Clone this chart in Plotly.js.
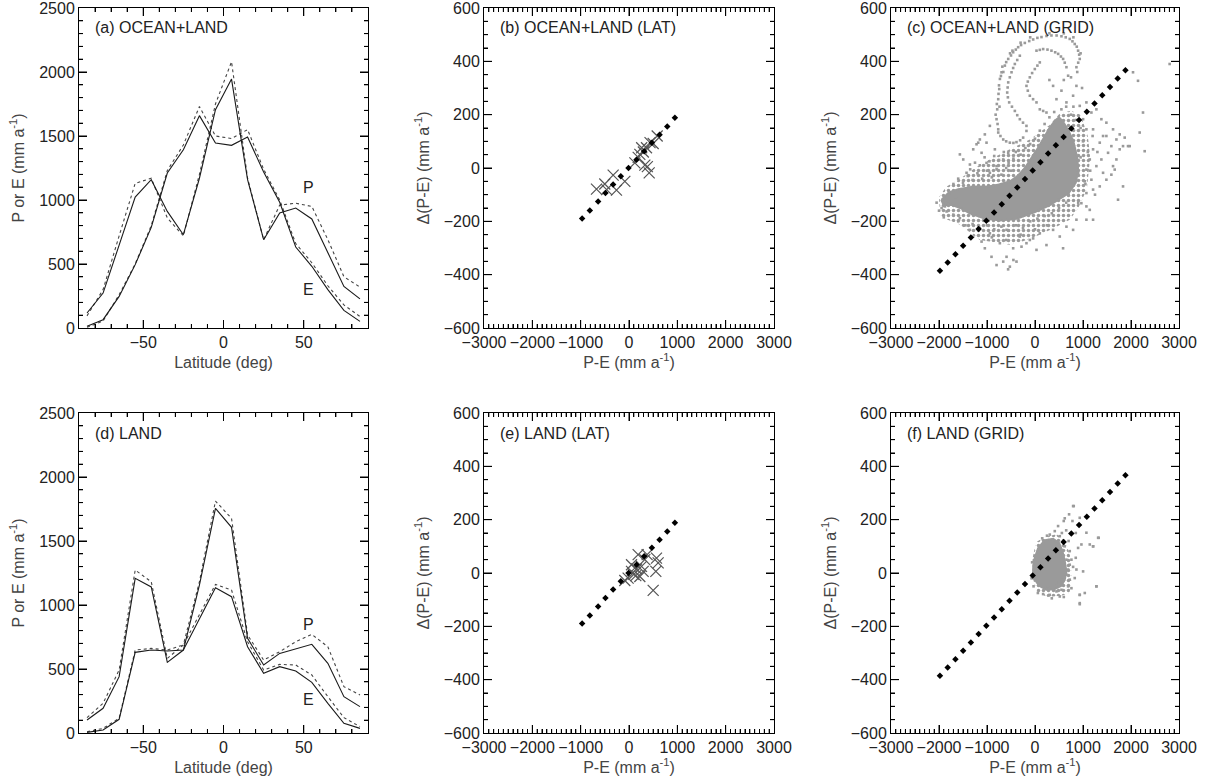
<!DOCTYPE html>
<html>
<head>
<meta charset="utf-8">
<script src="https://cdn.plot.ly/plotly-3.0.1.min.js"></script>
<style>html,body{margin:0;padding:0;background:#fff;}#chart{position:relative;width:1210px;height:782px;}.panel{position:absolute;left:0;top:0;width:1210px;height:782px;}</style>
</head>
<body>
<div id="chart"></div>
<script>
// ---------- data ----------
const lat = [-85,-75,-65,-55,-45,-35,-25,-15,-5,5,15,25,35,45,55,65,75,85];

// (a) OCEAN+LAND
const aP      = [117,273,648,1023,1159,911,729,1170,1706,1945,1159,690,898,937,852,586,325,227];
const aE      = [13,65,247,495,786,1211,1393,1659,1445,1427,1492,1219,982,633,482,300,138,52];
const aPdash  = [95,300,720,1130,1170,860,720,1200,1750,2080,1170,690,960,975,950,690,400,320];
const aEdash  = [5,55,260,500,800,1230,1430,1730,1500,1480,1550,1240,1000,660,510,330,180,90];

// (d) LAND
const dP      = [102,193,440,1208,1141,552,648,1156,1755,1607,740,531,622,655,693,544,284,206];
const dE      = [5,23,107,630,648,641,648,896,1135,1065,674,466,518,484,396,232,76,36];
const dPdash  = [120,232,492,1273,1182,583,688,1182,1812,1677,766,570,635,713,770,674,362,297];
const dEdash  = [10,36,115,648,661,648,688,922,1161,1117,713,492,536,531,453,284,120,50];

// reference (dotted) line points, LAT panels
const latRefX = [-970,-811,-639,-487,-328,-169,-10,155,314,473,632,791,949];
const latRefY = [-189,-159,-126,-94,-62,-31,0,31,63,95,125,156,188];

// reference (dotted) line points, GRID panels
const gridRefX = [-1980,-1819,-1658,-1497,-1336,-1175,-1014,-853,-692,-531,-370,-209,-48,113,274,435,596,757,918,1079,1240,1401,1562,1723,1884];
const gridRefY = [-385,-354,-323,-292,-261,-229,-198,-167,-136,-104,-73,-41,-9,22,54,85,116,148,180,211,242,273,304,336,367];

// (b) crosses
const bX = [-673,-501,-328,-462,-259,-86,121,190,224,262,297,362,435,500,583,328,380,418];
const bY = [-79,-60,-27,-81,-83,-50,19,40,51,76,60,76,95,92,120,11,5,-18];

// (e) crosses
const eX = [189,327,569,603,555,259,155,52,141,224,-18,-87,500,375,52,293,100];
const eY = [69,50,56,38,6,25,15,6,-10,-13,-19,-28,-65,69,31,6,-5];

// (c) dense core outline, speckled halo outline and scattered grid points
const cCore = [[-1950,-120],[-1800,-92],[-1600,-80],[-1300,-70],[-1000,-70],[-750,-62],[-520,-50],[-350,-28],[-210,0],[-70,38],[70,78],[200,118],[300,150],[420,178],[500,190],[580,175],[700,140],[800,100],[880,40],[900,-10],[850,-55],[700,-95],[500,-118],[300,-140],[0,-165],[-380,-190],[-730,-197],[-1080,-188],[-1360,-170],[-1560,-150],[-1740,-138],[-1900,-140]];
const cHalo = [[-1980,-175],[-2000,-110],[-1850,-70],[-1560,-40],[-1250,0],[-940,32],[-525,70],[-108,107],[300,160],[520,205],[750,215],[950,200],[1100,120],[1150,40],[1080,-80],[900,-150],[724,-194],[400,-225],[100,-250],[-250,-275],[-525,-288],[-850,-280],[-1150,-270],[-1560,-213],[-1870,-190]];
const cPts = [
[-766,145],[-801,183],[-787,220],[-766,258],[-745,296],[-731,334],[-697,359],[-628,384],[-558,409],[-455,434],[-351,453],[-212,469],[-38,482],[135,491],[343,497],[551,494],[724,484],[828,465],[898,440],[932,409],[863,378],
[-780,165],[-795,240],[-760,278],[-710,345],[-600,397],[-500,422],[-400,444],[-290,461],[-120,476],[50,488],[240,495],[450,497],[640,490],[780,475],[870,455],[920,425],[900,395],
[-820,200],[-750,310],[-680,380],[-520,430],[-300,470],[-100,490],[300,505],[600,505],[800,490],[950,430],[880,360],[-740,230],[-660,360],[-470,440],
[31,440],[170,446],[343,440],[482,428],[586,409],[655,378],[690,346],[-316,421],[-420,390],[-489,359],[-558,321],[-579,283],[-538,246],[-420,214],[-316,183],[-178,158],[100,396],[-4,371],[-108,340],[-178,308],[-108,271],[31,246],[100,220],[239,208],
[100,443],[260,444],[420,434],[540,418],[620,395],[-370,405],[-455,375],[-525,340],[-570,302],[-565,265],[-480,230],[-370,198],[-250,170],[50,384],[-60,356],[-150,324],[-150,290],[-40,258],[170,214],
[-766,133],[-662,107],[-524,95],[-386,97],[-247,114],[-178,139],[-720,120],[-600,100],[-450,94],[-310,104],
[377,308],[447,258],[551,290],[655,246],[794,271],[863,308],[932,233],[1071,246],[1175,208],[1279,220],[1383,183],[1487,170],[1626,145],[1765,126],[1869,114],[1973,82],[1418,120],[1210,145],[1002,183],[1071,145],[2042,359],[2146,327],[2250,208],[2805,390],[300,330],[600,330],[750,340],[980,300],
[-940,158],[-1045,126],[-1149,107],[-1218,89],[-1565,51],[-1495,32],[-1356,13],[-1287,70],[-1183,95],[-1113,57],[-1426,-18],[-1010,19],[-940,-18],[-801,7],[-662,32],[-558,57],[-1010,95],[-836,70],
[-1877,-144],[-1946,-150],[-1842,-163],[-1703,-175],[-1807,-125],[-1565,-188],[-1738,-94],[-2050,-130],[-2000,-160],[-1900,-185],[-1650,-110],
[-1356,-232],[-1183,-226],[-1287,-257],[-1045,-301],[-906,-333],[-801,-364],[-662,-351],[-524,-370],[-386,-351],[-593,-333],[-455,-301],[-281,-295],[-178,-282],[-39,-264],[100,-245],[239,-289],[377,-232],[516,-257],[655,-220],[794,-232],[863,-194],[1071,-194],[1210,-194],[585,-301],[31,-307],[-108,-270],[-316,-257],[-732,-282],[-593,-232],[-940,-245],[-1113,-276],[-560,-380],[-450,-345],
[1071,-144],[1141,-157],[966,-132],[1071,-94],[1210,-81],[1349,-69],[1487,-44],[1591,-25],[1626,7],[1696,32],[1765,70],[1834,82],[1696,107],[1487,120],[1349,95],[1210,70],[1141,32],[1279,7],[1418,-18],[1383,32],[1522,57],[1591,82],[1661,-6],[1730,-119],[1834,-69],[1938,82],[2285,63],[2181,133],[1175,-44],[1037,-50],[1071,-6],
[-1700,-60],[-1600,-40],[-1500,-55],[-1400,-30],[-1300,-45],[-1200,-20],[-1100,-40],[-1000,-10],[-900,-35],[-800,-5],[-700,-25],[-600,0],[-500,-10],[-1350,-5],[-1150,10],[-950,25],[-750,30],[-550,20],[-450,35],[-400,60],[-650,60],[-850,45],[-1050,40],[-1250,20],
[-1600,-200],[-1450,-215],[-1300,-210],[-1150,-225],[-1000,-215],[-850,-230],[-700,-220],[-550,-235],[-400,-215],[-250,-225],[-100,-200],[50,-190],[200,-180],[350,-170],[500,-150],[650,-130],[-900,-260],[-600,-270],[-300,-250],[0,-230],[250,-215],
[700,-100],[800,-60],[900,-20],[950,40],[1000,100],[950,150],[850,180],[750,200],[1100,60],[1150,-10],[1050,-60],[900,-130],[1200,120],[1300,60],[1250,-100],[800,230],[650,230],[550,220],[400,210],[300,190],[200,165],[100,140],[0,110],[-100,90],[-200,75],[-300,50]
];

// (f) dense core outline, speckled halo outline and scattered grid points
const fCore = [[205,123],[377,128],[502,113],[572,82],[620,44],[655,6],[620,-25],[551,-48],[412,-60],[238,-63],[86,-48],[-25,-19],[-39,19],[-4,57],[66,94]];
const fHalo = [[20,115],[200,135],[450,145],[620,125],[740,60],[770,-20],[720,-75],[550,-85],[250,-90],[40,-70],[-60,-10],[-50,55]];
const fPts = [[807,251],[710,220],[599,195],[481,176],[780,195],[932,207],[1071,151],[1327,132],[967,107],[898,94],[849,57],[759,50],[724,31],[794,23],[863,13],[828,-19],[724,-25],[690,-50],[551,-63],[447,-69],[308,-82],[169,-79],[516,-88],[932,-82],[932,-113],[1279,-50],[1037,-75],[759,-57],[655,-6],[690,13],[655,50],[724,82],[620,100],[516,138],[412,157],[308,144],[1002,6],[1141,107],[1210,100],[585,-25],[447,-38],[273,-50],[650,160],[560,150],[250,140],[150,130],[-60,40],[-70,-20],[-30,-50],[60,-75],[350,-95],[600,-90],[700,120],[850,150],[1211,100],[1315,132],[1280,-50],[933,-117],[933,-82],[794,251],[620,205]];

const panelLabels = ['(a) OCEAN+LAND','(b) OCEAN+LAND (LAT)','(c) OCEAN+LAND (GRID)','(d) LAND','(e) LAND (LAT)','(f) LAND (GRID)'];

// ---------- styles ----------
const FONT = 'Liberation Sans, Arial, Helvetica, sans-serif';
const TXT = '#222';
const GREY = '#9a9a9a';
function solid(){ return {color:'#1a1a1a', width:1.1}; }
function dashed(){ return {color:'#444', width:1.1, dash:'3px,3px'}; }

function closeX(poly){ return poly.map(p=>p[0]).concat([poly[0][0]]); }
function closeY(poly){ return poly.map(p=>p[1]).concat([poly[0][1]]); }
function line(x, y, ln){ return {type:'scatter', mode:'lines', x:x, y:y, line:ln, showlegend:false}; }
function halo(poly){ return {type:'scatter', mode:'lines', x:closeX(poly), y:closeY(poly), fill:'toself', fillcolor:'rgba(0,0,0,0)',
  fillpattern:{shape:'.', fgcolor:GREY, bgcolor:'rgba(0,0,0,0)', size:5, solidity:0.4}, line:{width:0, color:'rgba(0,0,0,0)'}, showlegend:false}; }
function core(poly){ return {type:'scatter', mode:'lines', x:closeX(poly), y:closeY(poly), fill:'toself', fillcolor:GREY, line:{color:GREY, width:2}, showlegend:false}; }
function pts(list){ return {type:'scatter', mode:'markers', x:list.map(p=>p[0]), y:list.map(p=>p[1]), marker:{symbol:'square', size:2.6, color:GREY}, showlegend:false}; }
function crosses(x, y){ return {type:'scatter', mode:'markers', x:x, y:y, marker:{symbol:'x-thin-open', size:11, color:'#555', line:{color:'#555', width:1.2}}, showlegend:false}; }
function refDots(x, y){ return {type:'scatter', mode:'markers', x:x, y:y, marker:{symbol:'diamond', size:5, color:'#000'}, showlegend:false}; }

// ---------- axes ----------
const W = 1210, H = 782;
const colX = [[79,368],[484,774],[891,1179]];
const rowY = [[8,328],[413,733]];
function xd(c){ return [colX[c][0]/W, colX[c][1]/W]; }
function yd(r){ return [1-rowY[r][1]/H, 1-rowY[r][0]/H]; }

// axis specs: range, major step, minor step
const LAT_AX = {range:[-90,90], major:50, minor:10};
const PE_AX  = {range:[0,2500], major:500, minor:100};
const PME_AX = {range:[-3000,3000], major:1000, minor:100};
const DPE_AX = {range:[-600,600], major:200, minor:50};

function baseAxis(spec){
  return {showline:true, linecolor:'#000', linewidth:1, mirror:'ticks', ticks:'inside', ticklen:8, tickwidth:1, tickcolor:'#000',
          showgrid:false, zeroline:false, ticklabeloverflow:'allow', tickfont:{family:FONT, size:16, color:TXT},
          range:spec.range, dtick:spec.major,
          minor:{ticks:'inside', ticklen:4, tickwidth:1, dtick:spec.minor, tickcolor:'#000', showgrid:false}};
}
function titleOf(t, so){ return {text:t, font:{family:FONT, size:16}, standoff:so}; }
function latX(c){ return Object.assign(baseAxis(LAT_AX), {domain:xd(c), title:titleOf('Latitude (deg)',6)}); }
function peY(r){ return Object.assign(baseAxis(PE_AX), {domain:yd(r), title:titleOf('P or E (mm a<sup>-1</sup>)',10)}); }
function pmeX(c){ return Object.assign(baseAxis(PME_AX), {domain:xd(c), title:titleOf('P-E (mm a<sup>-1</sup>)',6)}); }
function dY(r){ return Object.assign(baseAxis(DPE_AX), {domain:yd(r), title:titleOf('Δ(P-E) (mm a<sup>-1</sup>)',10)}); }

// inside tick marks on all four sides, placed through the axes' own scales
function tickValues(spec){
  const out = [];
  const n = Math.round((spec.range[1]-spec.range[0])/spec.minor);
  for (let i = 1; i < n; i++){
    const v = spec.range[0] + i*spec.minor;
    const q = v/spec.major;
    out.push({v:v, len: Math.abs(q-Math.round(q)) < 1e-9 ? 8 : 4});
  }
  return out;
}
function tickShapes(xs, ys){
  const sh = [];
  const ln = {color:'#000', width:1};
  tickValues(xs).forEach(t=>{
    sh.push({type:'line', layer:'above', xref:'x', yref:'y domain', ysizemode:'pixel', yanchor:0, x0:t.v, x1:t.v, y0:0, y1:t.len, line:ln});
    sh.push({type:'line', layer:'above', xref:'x', yref:'y domain', ysizemode:'pixel', yanchor:1, x0:t.v, x1:t.v, y0:0, y1:-t.len, line:ln});
  });
  tickValues(ys).forEach(t=>{
    sh.push({type:'line', layer:'above', yref:'y', xref:'x domain', xsizemode:'pixel', xanchor:0, y0:t.v, y1:t.v, x0:0, x1:t.len, line:ln});
    sh.push({type:'line', layer:'above', yref:'y', xref:'x domain', xsizemode:'pixel', xanchor:1, y0:t.v, y1:t.v, x0:0, x1:-t.len, line:ln});
  });
  return sh;
}

function label(t){ return {text:t, xref:'x domain', yref:'y domain', x:0.048, y:0.9375, xanchor:'left', yanchor:'middle', showarrow:false, font:{family:FONT, size:16, color:TXT}}; }
function curveLabel(t, x, y){ return {text:t, xref:'x', yref:'y', x:x, y:y, showarrow:false, font:{family:FONT, size:16, color:TXT}}; }

// ---------- panels (each drawn as its own figure, stacked on one page) ----------
const panels = [
  {traces:[line(lat,aPdash,dashed()), line(lat,aEdash,dashed()), line(lat,aP,solid()), line(lat,aE,solid())],
   xaxis:latX(0), yaxis:peY(0), xs:LAT_AX, ys:PE_AX, ann:[label(panelLabels[0]), curveLabel('P',53,1094), curveLabel('E',53,300)]},
  {traces:[crosses(bX,bY), refDots(latRefX,latRefY)], xaxis:pmeX(1), yaxis:dY(0), xs:PME_AX, ys:DPE_AX, ann:[label(panelLabels[1])]},
  {traces:[halo(cHalo), core(cCore), pts(cPts), refDots(gridRefX,gridRefY)], xaxis:pmeX(2), yaxis:dY(0), xs:PME_AX, ys:DPE_AX, ann:[label(panelLabels[2])]},
  {traces:[line(lat,dPdash,dashed()), line(lat,dEdash,dashed()), line(lat,dP,solid()), line(lat,dE,solid())],
   xaxis:latX(0), yaxis:peY(1), xs:LAT_AX, ys:PE_AX, ann:[label(panelLabels[3]), curveLabel('P',53,844), curveLabel('E',53,258)]},
  {traces:[crosses(eX,eY), refDots(latRefX,latRefY)], xaxis:pmeX(1), yaxis:dY(1), xs:PME_AX, ys:DPE_AX, ann:[label(panelLabels[4])]},
  {traces:[halo(fHalo), core(fCore), pts(fPts), refDots(gridRefX,gridRefY)], xaxis:pmeX(2), yaxis:dY(1), xs:PME_AX, ys:DPE_AX, ann:[label(panelLabels[5])]}
];

const host = document.getElementById('chart');
panels.forEach((p, i) => {
  const div = document.createElement('div');
  div.className = 'panel';
  div.id = 'panel' + i;
  host.appendChild(div);
  const layout = {width:W, height:H, margin:{l:0, r:0, t:0, b:0}, showlegend:false,
    paper_bgcolor:'rgba(0,0,0,0)', plot_bgcolor:'rgba(0,0,0,0)',
    xaxis:p.xaxis, yaxis:p.yaxis, annotations:p.ann, shapes:tickShapes(p.xs, p.ys)};
  Plotly.newPlot(div, p.traces, layout, {displayModeBar:false, staticPlot:true});
});
</script>
</body>
</html>
